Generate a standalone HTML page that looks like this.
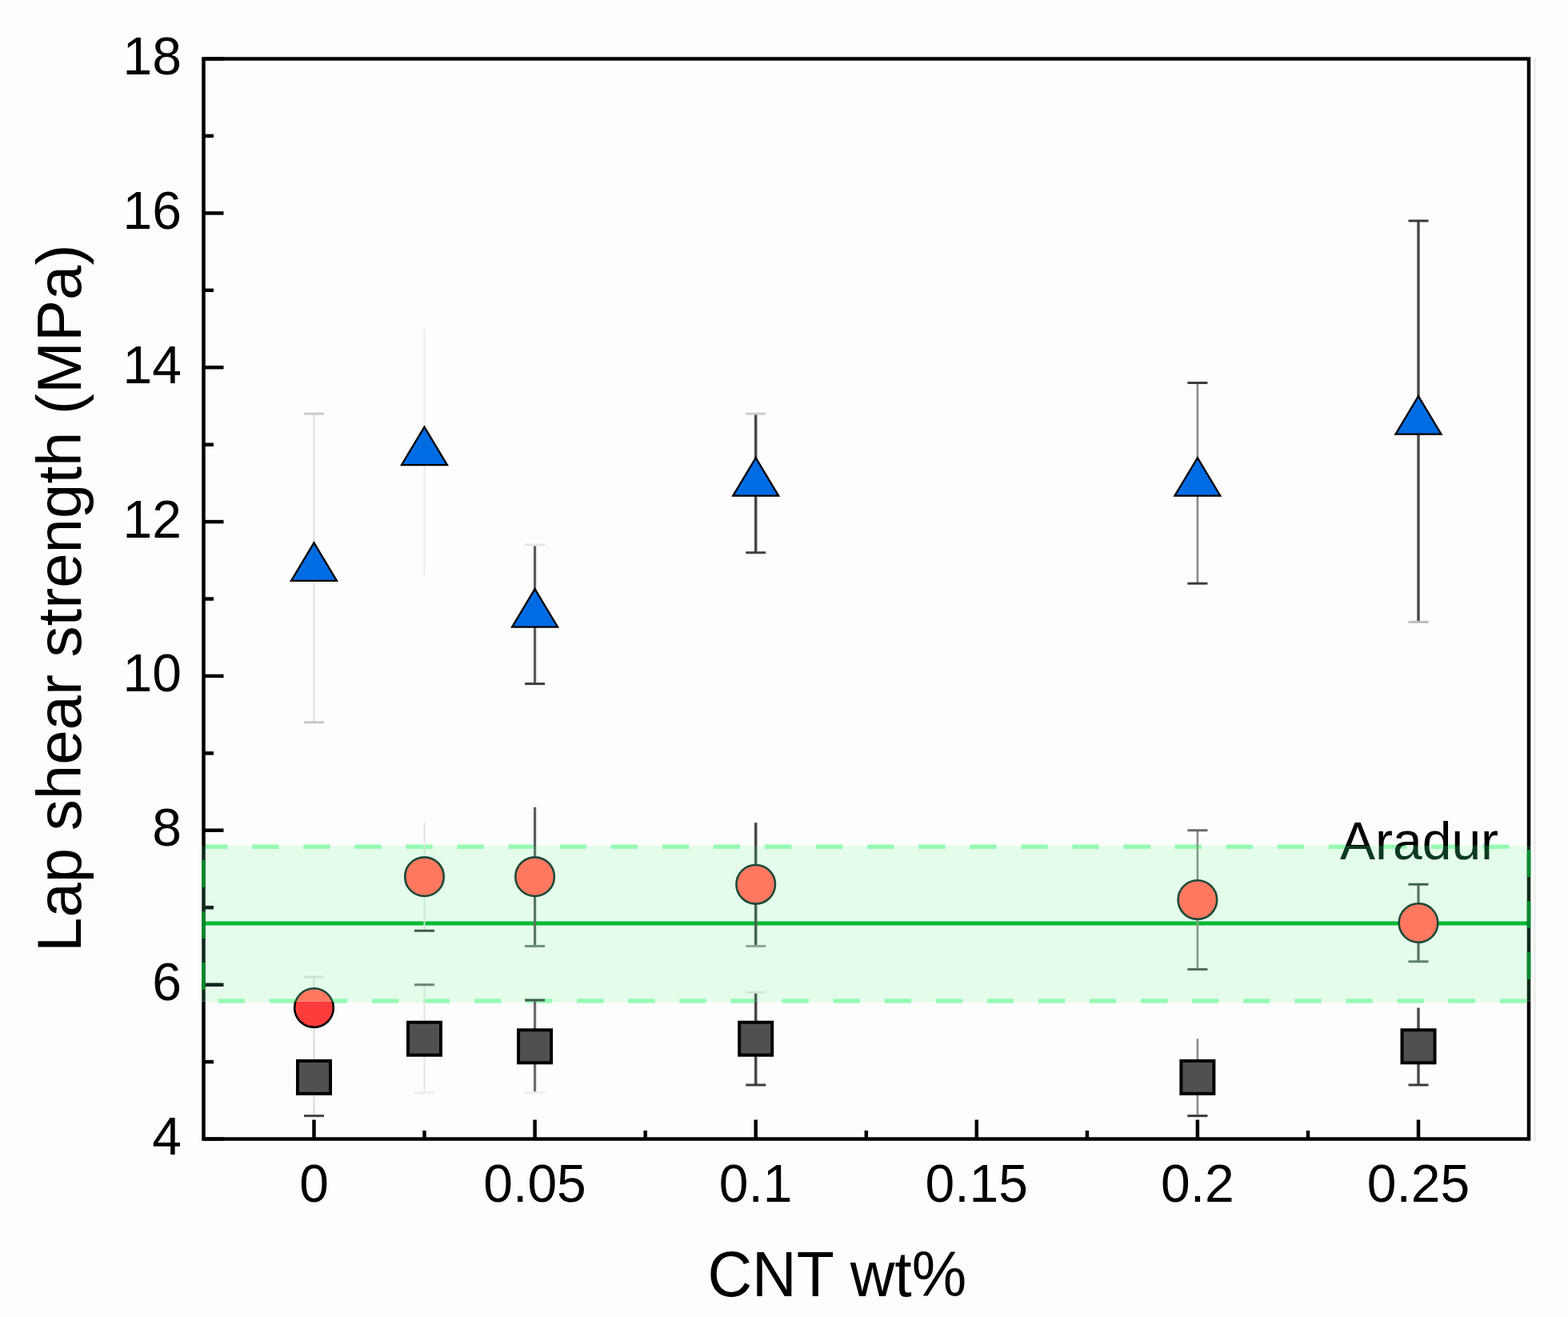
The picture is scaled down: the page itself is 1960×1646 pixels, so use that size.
<!DOCTYPE html>
<html><head><meta charset="utf-8"><title>Lap shear strength vs CNT wt%</title>
<style>html,body{margin:0;padding:0;background:#fff;width:1960px;height:1646px;overflow:hidden}svg{display:block}</style>
</head><body>
<svg width="1960" height="1646" viewBox="0 0 1960 1646">
<defs><clipPath id="inband"><rect x="0" y="1057.0" width="1960" height="194.5"/></clipPath><clipPath id="outband"><rect x="0" y="0" width="1960" height="1057.0"/><rect x="0" y="1251.5" width="1960" height="394.5"/></clipPath></defs>
<rect x="0" y="0" width="1960" height="1646" fill="#fefefe"/>
<rect x="27" y="31" width="1890" height="1613" fill="#fdfdfd"/>
<line x1="1918.6" y1="72" x2="1918.6" y2="1427" stroke="#efefef" stroke-width="3"/>
<rect x="254.5" y="1057.0" width="1656.5" height="195.5" fill="#e4fcea"/>
<line x1="254.5" y1="1058.2" x2="1911.0" y2="1058.2" stroke="#96fbb2" stroke-width="5.5" stroke-dasharray="33.4 30.68" stroke-dashoffset="3.4"/>
<line x1="254.5" y1="1250.9" x2="1911.0" y2="1250.9" stroke="#96fbb2" stroke-width="5.5" stroke-dasharray="33.4 30.68" stroke-dashoffset="-18.1"/>
<line x1="254.5" y1="1153.9" x2="1911.0" y2="1153.9" stroke="#00b832" stroke-width="5"/>
<g clip-path="url(#outband)"><line x1="254.5" y1="1423.5" x2="279.5" y2="1423.5" stroke="#000" stroke-width="4.5"/><line x1="254.5" y1="1327.1" x2="267.0" y2="1327.1" stroke="#000" stroke-width="4.5"/><line x1="254.5" y1="1230.7" x2="279.5" y2="1230.7" stroke="#000" stroke-width="4.5"/><line x1="254.5" y1="1134.2" x2="267.0" y2="1134.2" stroke="#000" stroke-width="4.5"/><line x1="254.5" y1="1037.8" x2="279.5" y2="1037.8" stroke="#000" stroke-width="4.5"/><line x1="254.5" y1="941.4" x2="267.0" y2="941.4" stroke="#000" stroke-width="4.5"/><line x1="254.5" y1="844.9" x2="279.5" y2="844.9" stroke="#000" stroke-width="4.5"/><line x1="254.5" y1="748.5" x2="267.0" y2="748.5" stroke="#000" stroke-width="4.5"/><line x1="254.5" y1="652.1" x2="279.5" y2="652.1" stroke="#000" stroke-width="4.5"/><line x1="254.5" y1="555.7" x2="267.0" y2="555.7" stroke="#000" stroke-width="4.5"/><line x1="254.5" y1="459.2" x2="279.5" y2="459.2" stroke="#000" stroke-width="4.5"/><line x1="254.5" y1="362.8" x2="267.0" y2="362.8" stroke="#000" stroke-width="4.5"/><line x1="254.5" y1="266.4" x2="279.5" y2="266.4" stroke="#000" stroke-width="4.5"/><line x1="254.5" y1="169.9" x2="267.0" y2="169.9" stroke="#000" stroke-width="4.5"/><line x1="254.5" y1="73.5" x2="279.5" y2="73.5" stroke="#000" stroke-width="4.5"/><line x1="392.5" y1="1423.5" x2="392.5" y2="1399.5" stroke="#000" stroke-width="4.5"/><line x1="530.5" y1="1423.5" x2="530.5" y2="1413.0" stroke="#000" stroke-width="4.5"/><line x1="668.6" y1="1423.5" x2="668.6" y2="1399.5" stroke="#000" stroke-width="4.5"/><line x1="806.7" y1="1423.5" x2="806.7" y2="1413.0" stroke="#000" stroke-width="4.5"/><line x1="944.7" y1="1423.5" x2="944.7" y2="1399.5" stroke="#000" stroke-width="4.5"/><line x1="1082.8" y1="1423.5" x2="1082.8" y2="1413.0" stroke="#000" stroke-width="4.5"/><line x1="1220.8" y1="1423.5" x2="1220.8" y2="1399.5" stroke="#000" stroke-width="4.5"/><line x1="1358.9" y1="1423.5" x2="1358.9" y2="1413.0" stroke="#000" stroke-width="4.5"/><line x1="1496.9" y1="1423.5" x2="1496.9" y2="1399.5" stroke="#000" stroke-width="4.5"/><line x1="1635.0" y1="1423.5" x2="1635.0" y2="1413.0" stroke="#000" stroke-width="4.5"/><line x1="1773.0" y1="1423.5" x2="1773.0" y2="1399.5" stroke="#000" stroke-width="4.5"/><rect x="254.5" y="73.5" width="1656.5" height="1350.0" fill="none" stroke="#000" stroke-width="4.5"/><line x1="392.5" y1="1298.2" x2="392.5" y2="1394.6" stroke="#d8d8d8" stroke-width="2"/><line x1="380.0" y1="1394.6" x2="405.0" y2="1394.6" stroke="#444444" stroke-width="3"/><line x1="530.5" y1="1230.7" x2="530.5" y2="1365.7" stroke="#e4e4e4" stroke-width="2"/><line x1="518.0" y1="1230.7" x2="543.0" y2="1230.7" stroke="#707070" stroke-width="3"/><line x1="518.0" y1="1365.7" x2="543.0" y2="1365.7" stroke="#eeeeee" stroke-width="3"/><line x1="668.6" y1="1249.9" x2="668.6" y2="1365.7" stroke="#6a6a6a" stroke-width="3.2"/><line x1="656.1" y1="1249.9" x2="681.1" y2="1249.9" stroke="#3c3c3c" stroke-width="3"/><line x1="656.1" y1="1365.7" x2="681.1" y2="1365.7" stroke="#eeeeee" stroke-width="3"/><line x1="944.7" y1="1240.3" x2="944.7" y2="1356.0" stroke="#464646" stroke-width="3.5"/><line x1="932.2" y1="1240.3" x2="957.2" y2="1240.3" stroke="#e6e6e6" stroke-width="3"/><line x1="932.2" y1="1356.0" x2="957.2" y2="1356.0" stroke="#3c3c3c" stroke-width="3"/><line x1="1496.9" y1="1298.2" x2="1496.9" y2="1394.6" stroke="#8a8a8a" stroke-width="2.6"/><line x1="1484.4" y1="1394.6" x2="1509.4" y2="1394.6" stroke="#3a3a3a" stroke-width="3"/><line x1="1773.0" y1="1259.6" x2="1773.0" y2="1356.0" stroke="#4c4c4c" stroke-width="3.5"/><line x1="1760.5" y1="1356.0" x2="1785.5" y2="1356.0" stroke="#3a3a3a" stroke-width="3"/><line x1="392.5" y1="1221.0" x2="392.5" y2="1298.2" stroke="#dcdcdc" stroke-width="2"/><line x1="380.0" y1="1221.0" x2="405.0" y2="1221.0" stroke="#e2e2e2" stroke-width="3"/><line x1="530.5" y1="1028.2" x2="530.5" y2="1163.2" stroke="#e2e2e2" stroke-width="2"/><line x1="518.0" y1="1163.2" x2="543.0" y2="1163.2" stroke="#3c3c3c" stroke-width="3"/><line x1="668.6" y1="1008.9" x2="668.6" y2="1182.4" stroke="#5c5c5c" stroke-width="3.2"/><line x1="656.1" y1="1182.4" x2="681.1" y2="1182.4" stroke="#7a7a7a" stroke-width="3"/><line x1="944.7" y1="1028.2" x2="944.7" y2="1182.4" stroke="#464646" stroke-width="3.5"/><line x1="932.2" y1="1182.4" x2="957.2" y2="1182.4" stroke="#9a9a9a" stroke-width="3"/><line x1="1496.9" y1="1037.8" x2="1496.9" y2="1211.4" stroke="#8a8a8a" stroke-width="2.6"/><line x1="1484.4" y1="1037.8" x2="1509.4" y2="1037.8" stroke="#6a6a6a" stroke-width="3"/><line x1="1484.4" y1="1211.4" x2="1509.4" y2="1211.4" stroke="#555555" stroke-width="3"/><line x1="1773.0" y1="1105.3" x2="1773.0" y2="1201.7" stroke="#5c5c5c" stroke-width="3.2"/><line x1="1760.5" y1="1105.3" x2="1785.5" y2="1105.3" stroke="#444444" stroke-width="3"/><line x1="1760.5" y1="1201.7" x2="1785.5" y2="1201.7" stroke="#666666" stroke-width="3"/><line x1="392.5" y1="517.1" x2="392.5" y2="902.8" stroke="#dedede" stroke-width="2"/><line x1="380.0" y1="517.1" x2="405.0" y2="517.1" stroke="#cacaca" stroke-width="3"/><line x1="380.0" y1="902.8" x2="405.0" y2="902.8" stroke="#c6c6c6" stroke-width="3"/><line x1="530.5" y1="411.0" x2="530.5" y2="719.6" stroke="#ececec" stroke-width="2"/><line x1="668.6" y1="681.0" x2="668.6" y2="854.6" stroke="#5c5c5c" stroke-width="3.2"/><line x1="656.1" y1="681.0" x2="681.1" y2="681.0" stroke="#e8e8e8" stroke-width="3"/><line x1="656.1" y1="854.6" x2="681.1" y2="854.6" stroke="#3c3c3c" stroke-width="3"/><line x1="944.7" y1="517.1" x2="944.7" y2="690.7" stroke="#464646" stroke-width="3.5"/><line x1="932.2" y1="517.1" x2="957.2" y2="517.1" stroke="#cccccc" stroke-width="3"/><line x1="932.2" y1="690.7" x2="957.2" y2="690.7" stroke="#424242" stroke-width="3"/><line x1="1496.9" y1="478.5" x2="1496.9" y2="729.2" stroke="#8a8a8a" stroke-width="2.6"/><line x1="1484.4" y1="478.5" x2="1509.4" y2="478.5" stroke="#3c3c3c" stroke-width="3"/><line x1="1484.4" y1="729.2" x2="1509.4" y2="729.2" stroke="#3c3c3c" stroke-width="3"/><line x1="1773.0" y1="276.0" x2="1773.0" y2="777.4" stroke="#4c4c4c" stroke-width="3.5"/><line x1="1760.5" y1="276.0" x2="1785.5" y2="276.0" stroke="#3a3a3a" stroke-width="3"/><line x1="1760.5" y1="777.4" x2="1785.5" y2="777.4" stroke="#bcbcbc" stroke-width="3"/><rect x="372.0" y="1325.9" width="41.0" height="41.0" fill="#505050" stroke="#000" stroke-width="4"/><rect x="510.0" y="1277.7" width="41.0" height="41.0" fill="#505050" stroke="#000" stroke-width="4"/><rect x="648.1" y="1287.3" width="41.0" height="41.0" fill="#505050" stroke="#000" stroke-width="4"/><rect x="924.2" y="1277.7" width="41.0" height="41.0" fill="#505050" stroke="#000" stroke-width="4"/><rect x="1476.4" y="1325.9" width="41.0" height="41.0" fill="#505050" stroke="#000" stroke-width="4"/><rect x="1752.5" y="1287.3" width="41.0" height="41.0" fill="#505050" stroke="#000" stroke-width="4"/><circle cx="392.5" cy="1259.6" r="24.3" fill="#ff3c3c" stroke="#000" stroke-width="2.6"/><circle cx="530.5" cy="1095.7" r="24.3" fill="#ff3c3c" stroke="#000" stroke-width="2.6"/><circle cx="668.6" cy="1095.7" r="24.3" fill="#ff3c3c" stroke="#000" stroke-width="2.6"/><circle cx="944.7" cy="1105.3" r="24.3" fill="#ff3c3c" stroke="#000" stroke-width="2.6"/><circle cx="1496.9" cy="1124.6" r="24.3" fill="#ff3c3c" stroke="#000" stroke-width="2.6"/><circle cx="1773.0" cy="1153.5" r="24.3" fill="#ff3c3c" stroke="#000" stroke-width="2.6"/><polygon points="392.5,678.3 421.0,725.8 364.0,725.8" fill="#006ce4" stroke="#000" stroke-width="2.3" stroke-linejoin="miter"/><polygon points="530.5,533.6 559.0,581.1 502.0,581.1" fill="#006ce4" stroke="#000" stroke-width="2.3" stroke-linejoin="miter"/><polygon points="668.6,736.1 697.1,783.6 640.1,783.6" fill="#006ce4" stroke="#000" stroke-width="2.3" stroke-linejoin="miter"/><polygon points="944.7,572.2 973.2,619.7 916.2,619.7" fill="#006ce4" stroke="#000" stroke-width="2.3" stroke-linejoin="miter"/><polygon points="1496.9,572.2 1525.4,619.7 1468.4,619.7" fill="#006ce4" stroke="#000" stroke-width="2.3" stroke-linejoin="miter"/><polygon points="1773.0,495.1 1801.5,542.6 1744.5,542.6" fill="#006ce4" stroke="#000" stroke-width="2.3" stroke-linejoin="miter"/><text x="1675" y="1074" font-size="66" font-family="Liberation Sans, Arial, sans-serif" fill="#000">Aradur</text></g>
<g clip-path="url(#inband)"><line x1="254.5" y1="1423.5" x2="279.5" y2="1423.5" stroke="#0c2818" stroke-width="4.5"/><line x1="254.5" y1="1327.1" x2="267.0" y2="1327.1" stroke="#0c2818" stroke-width="4.5"/><line x1="254.5" y1="1230.7" x2="279.5" y2="1230.7" stroke="#0c2818" stroke-width="4.5"/><line x1="254.5" y1="1134.2" x2="267.0" y2="1134.2" stroke="#0c2818" stroke-width="4.5"/><line x1="254.5" y1="1037.8" x2="279.5" y2="1037.8" stroke="#0c2818" stroke-width="4.5"/><line x1="254.5" y1="941.4" x2="267.0" y2="941.4" stroke="#0c2818" stroke-width="4.5"/><line x1="254.5" y1="844.9" x2="279.5" y2="844.9" stroke="#0c2818" stroke-width="4.5"/><line x1="254.5" y1="748.5" x2="267.0" y2="748.5" stroke="#0c2818" stroke-width="4.5"/><line x1="254.5" y1="652.1" x2="279.5" y2="652.1" stroke="#0c2818" stroke-width="4.5"/><line x1="254.5" y1="555.7" x2="267.0" y2="555.7" stroke="#0c2818" stroke-width="4.5"/><line x1="254.5" y1="459.2" x2="279.5" y2="459.2" stroke="#0c2818" stroke-width="4.5"/><line x1="254.5" y1="362.8" x2="267.0" y2="362.8" stroke="#0c2818" stroke-width="4.5"/><line x1="254.5" y1="266.4" x2="279.5" y2="266.4" stroke="#0c2818" stroke-width="4.5"/><line x1="254.5" y1="169.9" x2="267.0" y2="169.9" stroke="#0c2818" stroke-width="4.5"/><line x1="254.5" y1="73.5" x2="279.5" y2="73.5" stroke="#0c2818" stroke-width="4.5"/><line x1="392.5" y1="1423.5" x2="392.5" y2="1399.5" stroke="#0c2818" stroke-width="4.5"/><line x1="530.5" y1="1423.5" x2="530.5" y2="1413.0" stroke="#0c2818" stroke-width="4.5"/><line x1="668.6" y1="1423.5" x2="668.6" y2="1399.5" stroke="#0c2818" stroke-width="4.5"/><line x1="806.7" y1="1423.5" x2="806.7" y2="1413.0" stroke="#0c2818" stroke-width="4.5"/><line x1="944.7" y1="1423.5" x2="944.7" y2="1399.5" stroke="#0c2818" stroke-width="4.5"/><line x1="1082.8" y1="1423.5" x2="1082.8" y2="1413.0" stroke="#0c2818" stroke-width="4.5"/><line x1="1220.8" y1="1423.5" x2="1220.8" y2="1399.5" stroke="#0c2818" stroke-width="4.5"/><line x1="1358.9" y1="1423.5" x2="1358.9" y2="1413.0" stroke="#0c2818" stroke-width="4.5"/><line x1="1496.9" y1="1423.5" x2="1496.9" y2="1399.5" stroke="#0c2818" stroke-width="4.5"/><line x1="1635.0" y1="1423.5" x2="1635.0" y2="1413.0" stroke="#0c2818" stroke-width="4.5"/><line x1="1773.0" y1="1423.5" x2="1773.0" y2="1399.5" stroke="#0c2818" stroke-width="4.5"/><rect x="254.5" y="73.5" width="1656.5" height="1350.0" fill="none" stroke="#0c2818" stroke-width="4.5"/><line x1="392.5" y1="1298.2" x2="392.5" y2="1394.6" stroke="#c3ddcb" stroke-width="2"/><line x1="380.0" y1="1394.6" x2="405.0" y2="1394.6" stroke="#44624f" stroke-width="3"/><line x1="530.5" y1="1230.7" x2="530.5" y2="1365.7" stroke="#cee7d5" stroke-width="2"/><line x1="518.0" y1="1230.7" x2="543.0" y2="1230.7" stroke="#6a8674" stroke-width="3"/><line x1="518.0" y1="1365.7" x2="543.0" y2="1365.7" stroke="#d6efdd" stroke-width="3"/><line x1="668.6" y1="1249.9" x2="668.6" y2="1365.7" stroke="#65816f" stroke-width="3.2"/><line x1="656.1" y1="1249.9" x2="681.1" y2="1249.9" stroke="#3d5b48" stroke-width="3"/><line x1="656.1" y1="1365.7" x2="681.1" y2="1365.7" stroke="#d6efdd" stroke-width="3"/><line x1="944.7" y1="1240.3" x2="944.7" y2="1356.0" stroke="#466450" stroke-width="3.5"/><line x1="932.2" y1="1240.3" x2="957.2" y2="1240.3" stroke="#cfe8d7" stroke-width="3"/><line x1="932.2" y1="1356.0" x2="957.2" y2="1356.0" stroke="#3d5b48" stroke-width="3"/><line x1="1496.9" y1="1298.2" x2="1496.9" y2="1394.6" stroke="#809c89" stroke-width="2.6"/><line x1="1484.4" y1="1394.6" x2="1509.4" y2="1394.6" stroke="#3b5a46" stroke-width="3"/><line x1="1773.0" y1="1259.6" x2="1773.0" y2="1356.0" stroke="#4b6955" stroke-width="3.5"/><line x1="1760.5" y1="1356.0" x2="1785.5" y2="1356.0" stroke="#3b5a46" stroke-width="3"/><line x1="392.5" y1="1221.0" x2="392.5" y2="1298.2" stroke="#c7e0ce" stroke-width="2"/><line x1="380.0" y1="1221.0" x2="405.0" y2="1221.0" stroke="#cce5d3" stroke-width="3"/><line x1="530.5" y1="1028.2" x2="530.5" y2="1163.2" stroke="#cce5d3" stroke-width="2"/><line x1="518.0" y1="1163.2" x2="543.0" y2="1163.2" stroke="#3d5b48" stroke-width="3"/><line x1="668.6" y1="1008.9" x2="668.6" y2="1182.4" stroke="#597663" stroke-width="3.2"/><line x1="656.1" y1="1182.4" x2="681.1" y2="1182.4" stroke="#728f7c" stroke-width="3"/><line x1="944.7" y1="1028.2" x2="944.7" y2="1182.4" stroke="#466450" stroke-width="3.5"/><line x1="932.2" y1="1182.4" x2="957.2" y2="1182.4" stroke="#8ea997" stroke-width="3"/><line x1="1496.9" y1="1037.8" x2="1496.9" y2="1211.4" stroke="#809c89" stroke-width="2.6"/><line x1="1484.4" y1="1037.8" x2="1509.4" y2="1037.8" stroke="#65816f" stroke-width="3"/><line x1="1484.4" y1="1211.4" x2="1509.4" y2="1211.4" stroke="#53705d" stroke-width="3"/><line x1="1773.0" y1="1105.3" x2="1773.0" y2="1201.7" stroke="#597663" stroke-width="3.2"/><line x1="1760.5" y1="1105.3" x2="1785.5" y2="1105.3" stroke="#44624f" stroke-width="3"/><line x1="1760.5" y1="1201.7" x2="1785.5" y2="1201.7" stroke="#617e6b" stroke-width="3"/><line x1="392.5" y1="517.1" x2="392.5" y2="902.8" stroke="#c8e2d0" stroke-width="2"/><line x1="380.0" y1="517.1" x2="405.0" y2="517.1" stroke="#b7d1bf" stroke-width="3"/><line x1="380.0" y1="902.8" x2="405.0" y2="902.8" stroke="#b4cebc" stroke-width="3"/><line x1="530.5" y1="411.0" x2="530.5" y2="719.6" stroke="#d4eddc" stroke-width="2"/><line x1="668.6" y1="681.0" x2="668.6" y2="854.6" stroke="#597663" stroke-width="3.2"/><line x1="656.1" y1="681.0" x2="681.1" y2="681.0" stroke="#d1ead8" stroke-width="3"/><line x1="656.1" y1="854.6" x2="681.1" y2="854.6" stroke="#3d5b48" stroke-width="3"/><line x1="944.7" y1="517.1" x2="944.7" y2="690.7" stroke="#466450" stroke-width="3.5"/><line x1="932.2" y1="517.1" x2="957.2" y2="517.1" stroke="#b9d3c1" stroke-width="3"/><line x1="932.2" y1="690.7" x2="957.2" y2="690.7" stroke="#42604d" stroke-width="3"/><line x1="1496.9" y1="478.5" x2="1496.9" y2="729.2" stroke="#809c89" stroke-width="2.6"/><line x1="1484.4" y1="478.5" x2="1509.4" y2="478.5" stroke="#3d5b48" stroke-width="3"/><line x1="1484.4" y1="729.2" x2="1509.4" y2="729.2" stroke="#3d5b48" stroke-width="3"/><line x1="1773.0" y1="276.0" x2="1773.0" y2="777.4" stroke="#4b6955" stroke-width="3.5"/><line x1="1760.5" y1="276.0" x2="1785.5" y2="276.0" stroke="#3b5a46" stroke-width="3"/><line x1="1760.5" y1="777.4" x2="1785.5" y2="777.4" stroke="#abc6b3" stroke-width="3"/><rect x="372.0" y="1325.9" width="41.0" height="41.0" fill="#505050" stroke="#000" stroke-width="4"/><rect x="510.0" y="1277.7" width="41.0" height="41.0" fill="#505050" stroke="#000" stroke-width="4"/><rect x="648.1" y="1287.3" width="41.0" height="41.0" fill="#505050" stroke="#000" stroke-width="4"/><rect x="924.2" y="1277.7" width="41.0" height="41.0" fill="#505050" stroke="#000" stroke-width="4"/><rect x="1476.4" y="1325.9" width="41.0" height="41.0" fill="#505050" stroke="#000" stroke-width="4"/><rect x="1752.5" y="1287.3" width="41.0" height="41.0" fill="#505050" stroke="#000" stroke-width="4"/><circle cx="392.5" cy="1259.6" r="24.3" fill="#ff785f" stroke="#1d4a38" stroke-width="2.6"/><circle cx="530.5" cy="1095.7" r="24.3" fill="#ff785f" stroke="#1d4a38" stroke-width="2.6"/><circle cx="668.6" cy="1095.7" r="24.3" fill="#ff785f" stroke="#1d4a38" stroke-width="2.6"/><circle cx="944.7" cy="1105.3" r="24.3" fill="#ff785f" stroke="#1d4a38" stroke-width="2.6"/><circle cx="1496.9" cy="1124.6" r="24.3" fill="#ff785f" stroke="#1d4a38" stroke-width="2.6"/><circle cx="1773.0" cy="1153.5" r="24.3" fill="#ff785f" stroke="#1d4a38" stroke-width="2.6"/><polygon points="392.5,678.3 421.0,725.8 364.0,725.8" fill="#006ce4" stroke="#000" stroke-width="2.3" stroke-linejoin="miter"/><polygon points="530.5,533.6 559.0,581.1 502.0,581.1" fill="#006ce4" stroke="#000" stroke-width="2.3" stroke-linejoin="miter"/><polygon points="668.6,736.1 697.1,783.6 640.1,783.6" fill="#006ce4" stroke="#000" stroke-width="2.3" stroke-linejoin="miter"/><polygon points="944.7,572.2 973.2,619.7 916.2,619.7" fill="#006ce4" stroke="#000" stroke-width="2.3" stroke-linejoin="miter"/><polygon points="1496.9,572.2 1525.4,619.7 1468.4,619.7" fill="#006ce4" stroke="#000" stroke-width="2.3" stroke-linejoin="miter"/><polygon points="1773.0,495.1 1801.5,542.6 1744.5,542.6" fill="#006ce4" stroke="#000" stroke-width="2.3" stroke-linejoin="miter"/><text x="1675" y="1074" font-size="66" font-family="Liberation Sans, Arial, sans-serif" fill="#0c3a20">Aradur</text></g>
<line x1="254.5" y1="1057.0" x2="254.5" y2="1251.5" stroke="#008a2c" stroke-width="4.5" stroke-dasharray="34 30" stroke-dashoffset="-18"/>
<line x1="1911.0" y1="1057.0" x2="1911.0" y2="1251.5" stroke="#008a2c" stroke-width="4.5" stroke-dasharray="34 30" stroke-dashoffset="-5"/>
<text x="227" y="1443.0" font-size="66" text-anchor="end" font-family="Liberation Sans, Arial, sans-serif">4</text>
<text x="227" y="1250.2" font-size="66" text-anchor="end" font-family="Liberation Sans, Arial, sans-serif">6</text>
<text x="227" y="1057.3" font-size="66" text-anchor="end" font-family="Liberation Sans, Arial, sans-serif">8</text>
<text x="227" y="864.4" font-size="66" text-anchor="end" font-family="Liberation Sans, Arial, sans-serif">10</text>
<text x="227" y="671.6" font-size="66" text-anchor="end" font-family="Liberation Sans, Arial, sans-serif">12</text>
<text x="227" y="478.7" font-size="66" text-anchor="end" font-family="Liberation Sans, Arial, sans-serif">14</text>
<text x="227" y="285.9" font-size="66" text-anchor="end" font-family="Liberation Sans, Arial, sans-serif">16</text>
<text x="227" y="93.0" font-size="66" text-anchor="end" font-family="Liberation Sans, Arial, sans-serif">18</text>
<text x="392.5" y="1502" font-size="66" text-anchor="middle" font-family="Liberation Sans, Arial, sans-serif">0</text>
<text x="668.6" y="1502" font-size="66" text-anchor="middle" font-family="Liberation Sans, Arial, sans-serif">0.05</text>
<text x="944.7" y="1502" font-size="66" text-anchor="middle" font-family="Liberation Sans, Arial, sans-serif">0.1</text>
<text x="1220.8" y="1502" font-size="66" text-anchor="middle" font-family="Liberation Sans, Arial, sans-serif">0.15</text>
<text x="1496.9" y="1502" font-size="66" text-anchor="middle" font-family="Liberation Sans, Arial, sans-serif">0.2</text>
<text x="1773.0" y="1502" font-size="66" text-anchor="middle" font-family="Liberation Sans, Arial, sans-serif">0.25</text>
<text transform="translate(100.5,1190) rotate(-90)" x="0" y="0" font-size="78" font-family="Liberation Sans, Arial, sans-serif">Lap shear strength (MPa)</text>
<text transform="translate(1046.3,1620) scale(1,1.03)" x="0" y="0" font-size="77" text-anchor="middle" font-family="Liberation Sans, Arial, sans-serif">CNT wt%</text>
</svg>
</body></html>
